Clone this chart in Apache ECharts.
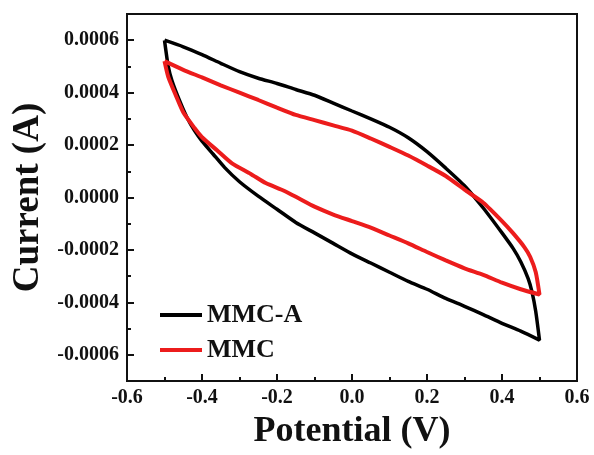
<!DOCTYPE html>
<html>
<head>
<meta charset="utf-8">
<script src="https://cdn.jsdelivr.net/npm/echarts@6/dist/echarts.min.js"></script>
<style>
  html, body { margin: 0; padding: 0; background: #fff; }
  #chart { width: 594px; height: 455px; }
</style>
</head>
<body>
<div id="chart"></div>
<script>
// Cyclic voltammograms, scan order: anodic branch left→right, then back.
const mmcaPotential = [
  -0.5, -0.45, -0.4, -0.35, -0.3, -0.25, -0.2, -0.15, -0.1, -0.05, 0.0, 0.05, 0.1, 0.15, 0.2, 0.25, 0.3, 0.35, 0.4, 0.43, 0.45, 0.47, 0.48, 0.49, 0.5,
  0.45, 0.4, 0.35, 0.3, 0.25, 0.2, 0.15, 0.1, 0.05, 0.0, -0.05, -0.1, -0.15, -0.2, -0.25, -0.3, -0.34, -0.37, -0.4, -0.42, -0.44, -0.46, -0.48, -0.49, -0.5
];
const mmcaCurrent = [
  0.000600, 0.000575, 0.000545, 0.000512, 0.000480, 0.000455, 0.000435, 0.000412, 0.000390, 0.000360, 0.000330, 0.000300, 0.000268, 0.000228, 0.000175, 0.000112, 0.000045, -0.000040, -0.000135, -0.000195, -0.000245, -0.000310, -0.000360, -0.000435, -0.000544,
  -0.000510, -0.000480, -0.000447, -0.000415, -0.000385, -0.000350, -0.000320, -0.000285, -0.000250, -0.000215, -0.000175, -0.000135, -0.000095, -0.000045, 0.000005, 0.000060, 0.000115, 0.000165, 0.000215, 0.000255, 0.000305, 0.000370, 0.000445, 0.000500, 0.000600
];

const mmcPotential = [
  -0.5, -0.45, -0.4, -0.35, -0.3, -0.25, -0.2, -0.15, -0.1, -0.05, 0.0, 0.05, 0.1, 0.15, 0.2, 0.25, 0.3, 0.35, 0.4, 0.43, 0.46, 0.475, 0.49, 0.5,
  0.45, 0.4, 0.35, 0.3, 0.25, 0.2, 0.15, 0.1, 0.05, 0.0, -0.05, -0.1, -0.14, -0.18, -0.23, -0.27, -0.32, -0.36, -0.4, -0.42, -0.45, -0.47, -0.49, -0.5
];
const mmcCurrent = [
  0.000520, 0.000487, 0.000458, 0.000428, 0.000400, 0.000372, 0.000343, 0.000315, 0.000295, 0.000275, 0.000255, 0.000225, 0.000193, 0.000160, 0.000122, 0.000082, 0.000030, -0.000020, -0.000090, -0.000137, -0.000190, -0.000226, -0.000285, -0.000370,
  -0.000350, -0.000325, -0.000295, -0.000270, -0.000240, -0.000208, -0.000175, -0.000145, -0.000115, -0.000090, -0.000065, -0.000035, -0.000005, 0.000025, 0.000055, 0.000090, 0.000130, 0.000180, 0.000230, 0.000265, 0.000325, 0.000390, 0.000460, 0.000520
];

const xTicks = { min: -0.6, max: 0.6, interval: 0.2 };
const yLabelValues = [-0.0006, -0.0004, -0.0002, 0.0, 0.0002, 0.0004, 0.0006];
const yRange = { min: -0.0007, max: 0.0007, minorInterval: 0.0001 };

const seriesNames = ['MMC-A', 'MMC'];
const seriesColors = ['#000000', '#ec1c1c'];

const FONT = "'Liberation Serif', 'Times New Roman', serif";
const INK = '#111';

function pairs(xs, ys) {
  return xs.map((x, i) => [x, ys[i]]);
}

// An axis that only draws tick marks along an edge (no line, no labels).
function tickOnlyAxis(extra) {
  return Object.assign({
    type: 'value',
    axisLine: { show: false, onZero: false },
    axisLabel: { show: false },
    splitLine: { show: false }
  }, extra);
}

const chart = echarts.init(document.getElementById('chart'), null, { renderer: 'canvas' });

chart.setOption({
  animation: false,
  backgroundColor: '#ffffff',
  grid: {
    left: 127, right: 17, top: 14, bottom: 74,
    show: true, borderColor: INK, borderWidth: 2, backgroundColor: 'transparent'
  },
  legend: {
    orient: 'vertical',
    left: 155, top: 297,
    itemWidth: 42, itemHeight: 4, itemGap: 9,
    icon: 'rect',
    textStyle: { fontFamily: FONT, fontWeight: 'bold', fontSize: 26, color: INK },
    data: seriesNames
  },
  xAxis: [
    {
      type: 'value',
      position: 'bottom',
      min: xTicks.min, max: xTicks.max, interval: xTicks.interval,
      name: 'Potential (V)',
      nameLocation: 'middle', nameGap: 33,
      nameTextStyle: { fontFamily: FONT, fontWeight: 'bold', fontSize: 36, color: INK },
      axisLine: { show: true, onZero: false, lineStyle: { color: INK, width: 2 } },
      axisTick: { show: false },
      splitLine: { show: false },
      axisLabel: {
        margin: 7,
        fontFamily: FONT, fontWeight: 'bold', fontSize: 20, color: INK,
        formatter: v => v.toFixed(1)
      }
    },
    tickOnlyAxis({
      position: 'bottom',
      min: xTicks.min, max: xTicks.max, interval: xTicks.interval,
      axisTick: { show: true, inside: true, length: 7, lineStyle: { color: INK, width: 2 } },
      minorTick: { show: true, splitNumber: 2, length: 4, lineStyle: { color: INK, width: 2 } }
    })
  ],
  yAxis: [
    {
      type: 'value',
      position: 'left',
      min: yRange.min, max: yRange.max,
      name: 'Current (A)',
      nameLocation: 'middle', nameGap: 75, nameRotate: 90,
      nameTextStyle: { fontFamily: FONT, fontWeight: 'bold', fontSize: 37, color: INK },
      axisLine: { show: true, onZero: false, lineStyle: { color: INK, width: 2 } },
      axisTick: { show: false },
      splitLine: { show: false },
      axisLabel: {
        margin: 8,
        customValues: yLabelValues,
        fontFamily: FONT, fontWeight: 'bold', fontSize: 20, color: INK,
        formatter: v => v.toFixed(4)
      }
    },
    tickOnlyAxis({
      position: 'left',
      min: yRange.min, max: yRange.max, interval: yRange.minorInterval,
      axisTick: { show: true, inside: true, length: 4, lineStyle: { color: INK, width: 2 } }
    }),
    tickOnlyAxis({
      position: 'left',
      min: yRange.min, max: yRange.max,
      axisTick: { show: true, inside: true, length: 7, customValues: yLabelValues, lineStyle: { color: INK, width: 2 } }
    })
  ],
  series: [
    {
      name: seriesNames[0],
      type: 'line',
      xAxisIndex: 0,
      yAxisIndex: 0,
      data: pairs(mmcaPotential, mmcaCurrent),
      showSymbol: false,
      smooth: 0.2,
      lineStyle: { color: seriesColors[0], width: 3.5 },
      itemStyle: { color: seriesColors[0] }
    },
    {
      name: seriesNames[1],
      type: 'line',
      xAxisIndex: 0,
      yAxisIndex: 0,
      data: pairs(mmcPotential, mmcCurrent),
      showSymbol: false,
      smooth: 0.2,
      lineStyle: { color: seriesColors[1], width: 4 },
      itemStyle: { color: seriesColors[1] }
    }
  ]
});
</script>
</body>
</html>
